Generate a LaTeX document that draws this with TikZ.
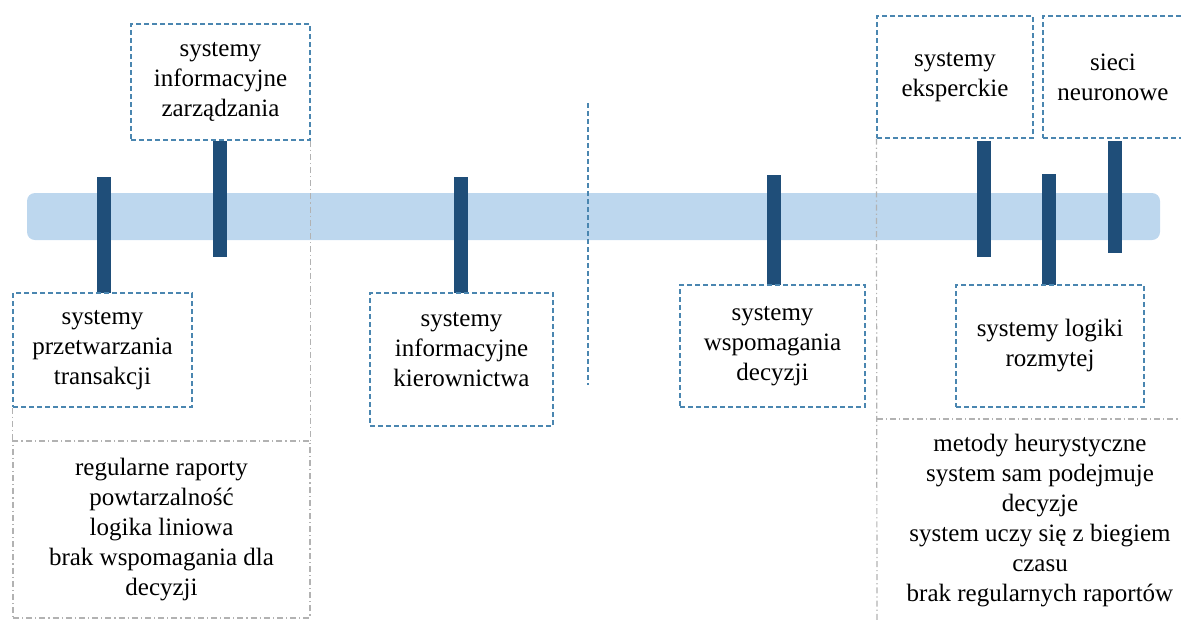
\documentclass[tikz,border=0pt]{standalone}
\usepackage{fontspec}
\setmainfont{Liberation Serif}
\definecolor{pasek}{HTML}{BDD7EE}
\definecolor{znacznik}{HTML}{1F4E79}
\definecolor{ramka}{HTML}{4A86B0}
\tikzset{
  etykieta/.style={draw=ramka, fill=white, line width=0.6pt, dash pattern=on 2.5pt off 1.5pt,
    align=center, inner sep=0pt, font=\fontsize{12.5}{15}\selectfont},
  cechy/.style={align=center, inner sep=0pt, font=\fontsize{12.5}{15}\selectfont},
  podzial/.style={draw=gray!60, line width=0.6pt, dash pattern=on 3pt off 1.5pt on 0.6pt off 1.5pt},
  znak/.style={draw=znacznik, line width=7pt}
}

\begin{document}
\begin{tikzpicture}[x=0.5pt, y=-0.5pt]
    \useasboundingbox (0,0) rectangle (1181,622);
    % Pasek osi czasu i znaczniki kolejnych etapów.
    \fill[pasek, rounded corners=4pt] (27,193) rectangle (1160,240);
    \foreach \x/\g/\d in {104/177/293, 220/141/257, 461/177/293, 774/175/285,
                          984/141/257, 1049/174/285, 1115/141/253}
        \draw[znak] (\x,\g) -- (\x,\d);
    \draw[ramka, line width=0.6pt, dash pattern=on 2.5pt off 1.5pt] (588,103) -- (588,385);
    \node[etykieta, minimum width=89.5pt, minimum height=58pt] (zarzadzanie) at (220.5,82)
        {systemy\\informacyjne\\zarządzania};
    \node[etykieta, minimum width=89.5pt, minimum height=57pt] (transakcje) at (102.5,350)
        {systemy\\przetwarzania\\transakcji};
    \node[etykieta, minimum width=91.5pt, minimum height=66.5pt, text depth=10pt] (kierownictwo) at (461.5,359.5)
        {systemy\\informacyjne\\kierownictwa};
    \node[etykieta, minimum width=92.5pt, minimum height=61pt] (decyzje) at (772.5,346)
        {systemy\\wspomagania\\decyzji};
    \node[etykieta, minimum width=78pt, minimum height=61pt] (eksperckie) at (955,77)
        {systemy\\eksperckie};
    \node[etykieta, minimum width=70pt, minimum height=61pt] (neuronowe) at (1113,77)
        {sieci\\neuronowe};
    \node[etykieta, minimum width=94pt, minimum height=61pt] (rozmyte) at (1050,346)
        {systemy logiki\\rozmytej};
    % Cechy pierwszych i ostatnich systemów.
    \node[cechy, podzial, minimum width=148.5pt, minimum height=88.5pt] (cechyLewe) at (161.5,529.5)
        {regularne raporty\\powtarzalność\\logika liniowa\\brak wspomagania dla\\decyzji};
    \draw[podzial] (zarzadzanie.south east) -- (cechyLewe.north east);
    \draw[podzial] (transakcje.south west) -- (cechyLewe.north west);
    \coordinate (prawyDol) at (877,622);
    \coordinate (prawyLewy) at (877,419);
    \coordinate (prawyKraj) at (1181,419);
    \draw[podzial] (eksperckie.south west) -- (prawyDol);
    \draw[podzial] (prawyLewy) -- (prawyKraj);
    \node[cechy] (cechyPrawe) at (1040,521)
        {metody heurystyczne\\system sam podejmuje\\decyzje\\system uczy się z biegiem\\czasu\\brak regularnych raportów};
\end{tikzpicture}
\end{document}
